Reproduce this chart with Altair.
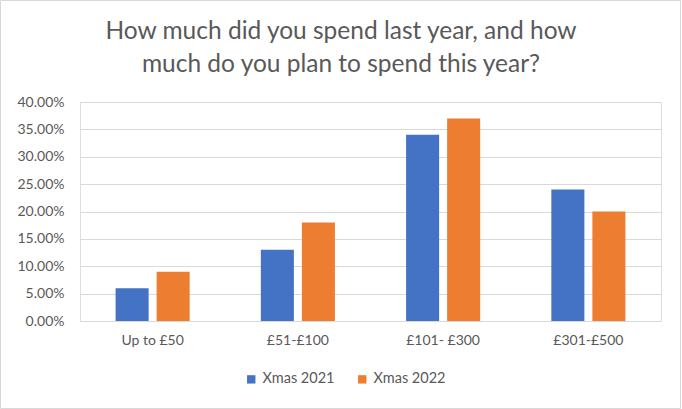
import altair as alt
import pandas as pd

categories = ["Up to £50", "£51-£100", "£101- £300", "£301-£500"]
series_names = ["Xmas 2021", "Xmas 2022"]
xmas_2021 = [0.06, 0.13, 0.34, 0.24]
xmas_2022 = [0.09, 0.18, 0.37, 0.20]
y_ticks = [0, 0.05, 0.10, 0.15, 0.20, 0.25, 0.30, 0.35, 0.40]
title_lines = ["How much did you spend last year, and how",
               "much do you plan to spend this year?"]

rows = []
for c, a, b in zip(categories, xmas_2021, xmas_2022):
    rows.append({"cat": c, "series": series_names[0], "value": a})
    rows.append({"cat": c, "series": series_names[1], "value": b})
df = pd.DataFrame(rows)

FONT = "Lato"
GREY = "#595959"

bars = alt.Chart(df).mark_bar().encode(
    x=alt.X("cat:N", sort=categories, title=None,
            scale=alt.Scale(paddingInner=0.49, paddingOuter=0.245),
            axis=alt.Axis(labelAngle=0, labelFontSize=14, labelColor=GREY, labelFont=FONT,
                          ticks=False, domainColor="#d9d9d9", labelPadding=12)),
    xOffset=alt.XOffset("series:N", sort=series_names,
                        scale=alt.Scale(paddingInner=0.195, paddingOuter=0)),
    y=alt.Y("value:Q", title=None,
            scale=alt.Scale(domain=[0, 0.40], nice=False),
            axis=alt.Axis(values=y_ticks, format=".2%", labelFontSize=14, labelColor=GREY,
                          labelFont=FONT, ticks=False, domain=False, gridColor="#d9d9d9",
                          labelPadding=16)),
    color=alt.Color("series:N", sort=series_names,
                    scale=alt.Scale(domain=series_names, range=["#4472C4", "#ED7D31"]),
                    legend=alt.Legend(title=None, orient="none", direction="horizontal",
                                      legendX=164, legendY=270, symbolType="square",
                                      symbolSize=70, labelFontSize=14.5, labelColor=GREY,
                                      labelFont=FONT, columnPadding=20, symbolStrokeWidth=0)),
)

title1 = alt.Chart(pd.DataFrame({"t": [title_lines[0]]})).mark_text(
    font=FONT, fontSize=24.5, color=GREY, align="center", baseline="alphabetic", clip=False
).encode(text="t:N", x=alt.value(261), y=alt.value(-63))

title2 = alt.Chart(pd.DataFrame({"t": [title_lines[1]]})).mark_text(
    font=FONT, fontSize=24.5, color=GREY, align="center", baseline="alphabetic", clip=False
).encode(text="t:N", x=alt.value(261), y=alt.value(-30))

border = alt.Chart(pd.DataFrame({"a": [0]})).mark_rect(
    fill=None, stroke="#d9d9d9", strokeWidth=1, clip=False
).encode(
    x=alt.value(-79.5), x2=alt.value(600.5), y=alt.value(-101.5), y2=alt.value(306.5)
)

chart = alt.layer(bars, title1, title2, border).properties(
    width=581, height=219,
    autosize=alt.AutoSizeParams(type="none"),
    padding={"left": 80, "top": 102, "right": 21, "bottom": 88},
).configure_view(stroke=None).configure(background="white")

chart.save("out.html", embed_options={"renderer": "svg", "actions": False})
